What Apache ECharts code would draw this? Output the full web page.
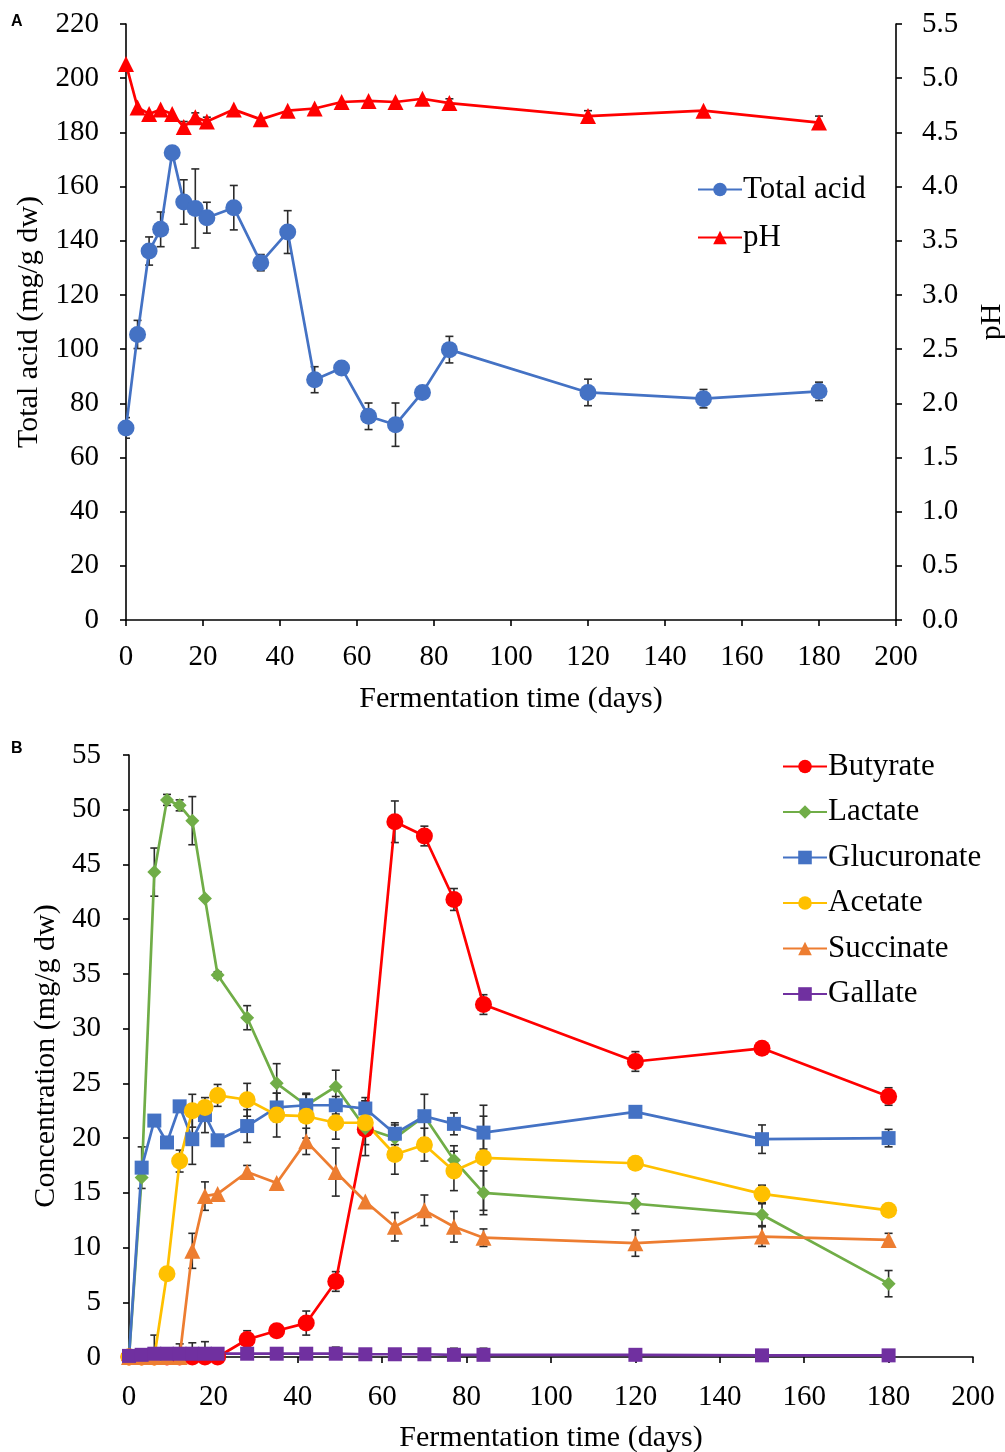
<!DOCTYPE html>
<html>
<head>
<meta charset="utf-8">
<script src="https://cdn.jsdelivr.net/npm/echarts@6/dist/echarts.min.js"></script>
<style>
html,body{margin:0;padding:0;background:#fff;}
#chart{width:1005px;height:1452px;}
</style>
</head>
<body>
<div id="chart"></div>
<script>
// ---------- DATA ----------
const days = [0,3,6,9,12,15,18,21,28,35,42,49,56,63,70,77,84,120,150,180];

// Panel A
const totalAcid    = [70.9,105.4,136.2,144.2,172.5,154.3,151.9,148.5,152.2,131.9,143.2,88.7,93.0,75.2,72.1,84.0,99.8,84.0,81.7,84.4];
const totalAcidErr = [3.8,5.2,5.2,6.4,0,8.2,14.6,5.7,8.2,3.0,7.9,4.8,0,4.9,8.0,0,4.9,4.9,3.4,3.4];
const pH           = [5.13,4.73,4.67,4.71,4.67,4.55,4.64,4.60,4.71,4.62,4.70,4.72,4.78,4.79,4.78,4.81,4.77,4.65,4.70,4.59];
const pHErr        = [0,0,0,0,0,0.05,0.04,0.04,0,0,0,0,0,0,0,0,0.04,0.05,0,0.06];

// Panel B
const butyrate      = [0,0,0,0,0,0,0,0,1.6,2.4,3.1,6.9,20.8,48.9,47.6,41.8,32.2,27.0,28.2,23.8];
const butyrateErr   = [0,0,0,0,0,0,0,0,0.8,0.3,1.1,0.9,0,1.9,0.9,1.0,0.9,0.9,0.5,0.8];
const lactate       = [0,16.4,44.3,50.9,50.4,49.0,41.9,34.9,31.0,25.0,23.0,24.7,20.9,20.0,22.0,18.0,15.0,14.0,13.0,6.7];
const lactateErr    = [0,0,2.2,0.5,0.5,2.2,0,0.3,1.1,1.8,1.1,1.5,2.5,1.2,0,1.3,2.0,0.9,1.0,1.2];
const glucuronate   = [0,17.3,21.6,19.6,22.9,19.9,22.1,19.8,21.1,22.8,23.0,23.0,22.7,20.4,22.0,21.3,20.5,22.4,19.9,20.0];
const glucuronateErr= [0,1.9,0,0,0,2.3,1.6,0,1.5,1.3,1.0,0.8,1.0,1.0,2.0,1.0,1.5,0,1.3,0.8];
const acetate       = [0,0,0,7.6,17.9,22.5,22.8,23.9,23.5,22.1,22.0,21.4,21.4,18.5,19.4,17.0,18.2,17.7,14.9,13.4];
const acetateErr    = [0,0,2.0,0,1.0,1.5,0,1.0,1.5,2.0,2.0,1.5,2.0,1.8,1.5,1.8,4.8,0,0.8,0];
const succinate     = [0,0,0,0,0,9.7,14.7,14.9,16.9,15.9,19.7,16.9,14.2,11.9,13.4,11.9,10.9,10.4,11.0,10.7];
const succinateErr  = [0,0,0,0,0,1.6,1.3,0,0.6,0,1.2,2.2,0,1.3,1.4,1.4,0.8,1.2,0.9,0.6];
const gallate       = [0.1,0.2,0.3,0.3,0.3,0.3,0.3,0.3,0.3,0.3,0.3,0.3,0.25,0.25,0.25,0.2,0.2,0.2,0.15,0.15];
const gallateErr    = [0,0,0,0,0.9,1.0,1.1,0,0,0.3,0,0.6,0,0,0,0.6,0.6,0,0,0];

const xTicksA = {min:0, max:200, interval:20};
const yTicksA = {min:0, max:220, interval:20};
const yTicksPH = {min:0, max:5.5, interval:0.5};
const yTicksB = {min:0, max:55, interval:5};

// ---------- HELPERS ----------
const FONT = 'Liberation Serif';
function pairs(vals){ return days.map((d,i)=>[d, vals[i]]); }
function errData(vals, errs){
  const out = [];
  days.forEach((d,i)=>{ if(errs[i]>0) out.push([d, Math.max(0, vals[i]-errs[i]), vals[i]+errs[i]]); });
  return out;
}
function errRender(params, api){
  const x = api.value(0), lo = api.value(1), hi = api.value(2);
  const p1 = api.coord([x, lo]), p2 = api.coord([x, hi]);
  const w = 4;
  const st = {stroke:'#2b2b2b', lineWidth:1.6};
  return {type:'group', children:[
    {type:'line', shape:{x1:p1[0],y1:p1[1],x2:p2[0],y2:p2[1]}, style:st},
    {type:'line', shape:{x1:p1[0]-w,y1:p1[1],x2:p1[0]+w,y2:p1[1]}, style:st},
    {type:'line', shape:{x1:p2[0]-w,y1:p2[1],x2:p2[0]+w,y2:p2[1]}, style:st}
  ]};
}
function errSeries(vals, errs, xi, yi){
  return {type:'custom', xAxisIndex:xi, yAxisIndex:yi, renderItem:errRender,
    data: errData(vals, errs), encode:{x:0, y:[1,2]}, z:1, silent:true, clip:true};
}
function lineSeries(name, vals, color, symbol, size, xi, yi){
  return {name, type:'line', xAxisIndex:xi, yAxisIndex:yi, data:pairs(vals),
    symbol, symbolSize:size, showSymbol:true, lineStyle:{color, width:2.7},
    itemStyle:{color, opacity:1}, z:3, animation:false};
}

const axisLine = {show:true, lineStyle:{color:'#000', width:1.6}};
const axisTick = {show:true, length:6, lineStyle:{color:'#000', width:1.6}};
const labelStyle = {color:'#000', fontFamily:FONT, fontSize:29};
const nameStyle = {color:'#000', fontFamily:FONT, fontSize:30};

const option = {
  backgroundColor:'#fff',
  animation:false,
  grid:[
    {left:126, top:24, width:770, height:596, containLabel:false, outerBoundsMode:'none'},
    {left:129, top:755, width:844, height:602, containLabel:false, outerBoundsMode:'none'}
  ],
  xAxis:[
    {type:'value', gridIndex:0, ...xTicksA, axisLine, axisTick, splitLine:{show:false},
     axisLabel:{...labelStyle, margin:23},
     name:'Fermentation time (days)', nameLocation:'middle', nameGap:64, nameTextStyle:nameStyle},
    {type:'value', gridIndex:1, ...xTicksA, axisLine, axisTick, splitLine:{show:false},
     axisLabel:{...labelStyle, margin:26},
     name:'Fermentation time (days)', nameLocation:'middle', nameGap:66, nameTextStyle:nameStyle}
  ],
  yAxis:[
    {type:'value', gridIndex:0, position:'left', ...yTicksA, axisLine, axisTick, splitLine:{show:false},
     axisLabel:{...labelStyle, margin:27},
     name:'Total acid (mg/g dw)', nameLocation:'middle', nameGap:81, nameRotate:90, nameTextStyle:nameStyle},
    {type:'value', gridIndex:0, position:'right', ...yTicksPH, axisLine, axisTick, splitLine:{show:false},
     axisLabel:{...labelStyle, margin:26, formatter:v=>v.toFixed(1)},
     name:'pH', nameLocation:'middle', nameGap:81, nameRotate:90, nameTextStyle:nameStyle},
    {type:'value', gridIndex:1, position:'left', ...yTicksB, axisLine, axisTick, splitLine:{show:false},
     axisLabel:{...labelStyle, margin:28},
     name:'Concentration (mg/g dw)', nameLocation:'middle', nameGap:64, nameRotate:90, nameTextStyle:nameStyle}
  ],
  legend:[
    {orient:'vertical', left:692, top:169, itemWidth:44, itemHeight:17, itemGap:17,
     textStyle:{color:'#000', fontFamily:FONT, fontSize:31, padding:[0,0,0,-4]},
     data:['Total acid','pH']},
    {orient:'vertical', left:777, top:746, itemWidth:44, itemHeight:17, itemGap:14.5,
     textStyle:{color:'#000', fontFamily:FONT, fontSize:31, padding:[0,0,0,-4]},
     data:['Butyrate','Lactate','Glucuronate','Acetate','Succinate','Gallate']}
  ],
  graphic:[
    {type:'text', left:11, top:14, style:{text:'A', font:'bold 16px "Liberation Sans"', fill:'#000'}},
    {type:'text', left:11, top:741, style:{text:'B', font:'bold 16px "Liberation Sans"', fill:'#000'}}
  ],
  series:[
    errSeries(totalAcid, totalAcidErr, 0, 0),
    errSeries(pH, pHErr, 0, 1),
    lineSeries('Total acid', totalAcid, '#4472C4', 'circle', 17, 0, 0),
    lineSeries('pH', pH, '#FF0000', 'triangle', 16, 0, 1),

    errSeries(butyrate, butyrateErr, 1, 2),
    errSeries(lactate, lactateErr, 1, 2),
    errSeries(glucuronate, glucuronateErr, 1, 2),
    errSeries(acetate, acetateErr, 1, 2),
    errSeries(succinate, succinateErr, 1, 2),
    errSeries(gallate, gallateErr, 1, 2),
    lineSeries('Butyrate', butyrate, '#FF0000', 'circle', 17, 1, 2),
    lineSeries('Lactate', lactate, '#70AD47', 'diamond', 14, 1, 2),
    lineSeries('Glucuronate', glucuronate, '#4472C4', 'rect', 14, 1, 2),
    lineSeries('Acetate', acetate, '#FFC000', 'circle', 17, 1, 2),
    lineSeries('Succinate', succinate, '#ED7D31', 'triangle', 16, 1, 2),
    lineSeries('Gallate', gallate, '#7030A0', 'rect', 14, 1, 2)
  ]
};

const chart = echarts.init(document.getElementById('chart'), null, {renderer:'canvas'});
chart.setOption(option);
</script>
</body>
</html>
